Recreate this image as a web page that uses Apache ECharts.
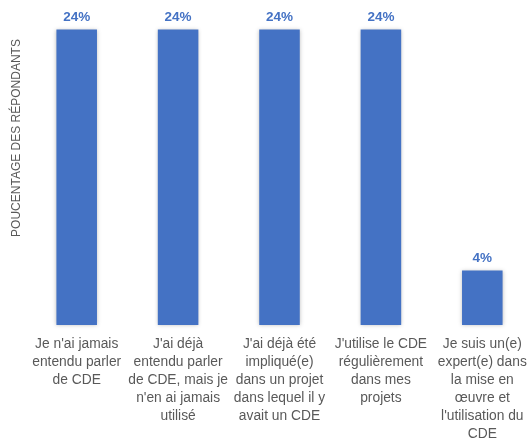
<!DOCTYPE html>
<html><head><meta charset="utf-8">
<script src="https://cdn.jsdelivr.net/npm/echarts@6/dist/echarts.min.js"></script>
<style>html,body{margin:0;padding:0;background:#fff}#c{width:528px;height:443px}</style>
</head><body><div id="c"></div>
<script>
const categories = [
  "Je n'ai jamais\nentendu parler\nde CDE",
  "J'ai déjà\nentendu parler\nde CDE, mais je\nn'en ai jamais\nutilisé",
  "J'ai déjà été\nimpliqué(e)\ndans un projet\ndans lequel il y\navait un CDE",
  "J'utilise le CDE\nrégulièrement\ndans mes\nprojets",
  "Je suis un(e)\nexpert(e) dans\nla mise en\nœuvre et\nl'utilisation du\nCDE"
];
const values = [23.9, 23.9, 23.9, 23.9, 4.4];
const yAxisTitle = "POUCENTAGE DES RÉPONDANTS";

const chart = echarts.init(document.getElementById('c'));
chart.setOption({
  animation: false,
  grid: {left: 26, width: 507, top: 16, bottom: 118, outerBoundsMode: 'none', containLabel: false},
  xAxis: {
    type: 'category', data: categories,
    axisLine: {show: false}, axisTick: {show: false},
    axisLabel: {interval: 0, color: '#595959', fontFamily: 'Liberation Sans', fontSize: 13.8, lineHeight: 18, margin: 10}
  },
  yAxis: {type: 'value', min: 0, max: 25, show: false},
  graphic: [{
    type: 'text', x: 17, y: 138, rotation: Math.PI / 2,
    style: {text: yAxisTitle, fill: '#595959', font: '12px "Liberation Sans"', align: 'center', verticalAlign: 'middle'}
  }],
  series: [{
    type: 'bar', data: values, barWidth: '40%',
    itemStyle: {color: '#4472C4', shadowBlur: 4, shadowColor: 'rgba(0,0,0,0.25)'},
    label: {show: true, position: 'top', distance: 5, color: '#4472C4', fontWeight: 'bold',
      fontFamily: 'Liberation Sans', fontSize: 13.5, formatter: p => Math.round(p.value) + '%'}
  }]
});
</script></body></html>
